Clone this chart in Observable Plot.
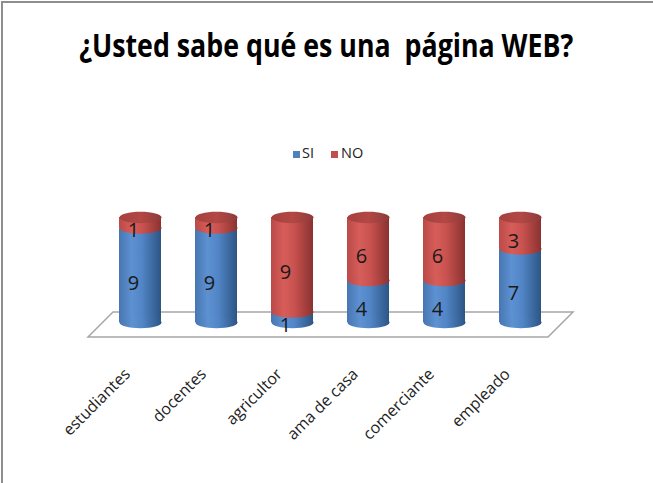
<!DOCTYPE html>
<html><head><meta charset="utf-8">
<script src="https://cdn.jsdelivr.net/npm/d3@7"></script>
<script src="https://cdn.jsdelivr.net/npm/@observablehq/plot@0.6"></script>
<style>
body{margin:0;background:#fff;}
#wrap{position:relative;width:653px;height:483px;overflow:hidden;font-family:"Open Sans","Noto Sans",sans-serif;}
#border{position:absolute;left:1px;top:1px;width:700px;height:600px;border-left:2px solid #8e8e8e;border-top:2px solid #8e8e8e;}
#title{position:absolute;left:0;width:653px;top:28px;line-height:33px;text-align:center;font-weight:bold;font-size:33px;color:#000;white-space:pre;transform-origin:325px 50%;}
#legend{position:absolute;top:146px;left:0;height:14px;font-size:14.5px;line-height:14px;color:#222;}
.sw{position:absolute;top:5px;width:7px;height:7px;}
.lt{position:absolute;top:0;}
#chart{position:absolute;left:0;top:0;}
</style>
</head><body>
<div id="wrap">
  <div id="chart"></div>
  <div id="title"><span id="tspan"></span></div>
  <div id="legend"></div>
  <div id="border"></div>
</div>
<script>
const title = "¿Usted sabe qué es una  página WEB?";
const categories = ["estudiantes","docentes","agricultor","ama de casa","comerciante","empleado"];
const seriesNames = ["SI","NO"];
const siValues = [9,9,1,4,4,7];
const noValues = [1,1,9,6,6,3];
const seriesColors = ["#4F81BD","#C0504D"];

const tspan = document.getElementById("tspan");
tspan.textContent = title;
const tw = tspan.getBoundingClientRect().width;
document.getElementById("title").style.transform = `scaleX(${494/tw})`;

const legend = document.getElementById("legend");
const legendX = [[293,302],[331,341]];
seriesNames.forEach((s,i)=>{
  const sw = document.createElement("div"); sw.className="sw"; sw.style.left=legendX[i][0]+"px"; sw.style.background=seriesColors[i]; legend.appendChild(sw);
  const t = document.createElement("div"); t.className="lt"; t.style.left=legendX[i][1]+"px"; t.textContent=s; legend.appendChild(t);
});

const rows = categories.map((c,i)=>({cat:c, si:siValues[i], no:noValues[i], total:siValues[i]+noValues[i]}));

const ellipse = {
  draw(ctx, size) {
    const rx = Math.sqrt(size/Math.PI), ry = rx*0.27, k = 0.5523;
    ctx.moveTo(rx,0);
    ctx.bezierCurveTo(rx, ry*k, rx*k, ry, 0, ry);
    ctx.bezierCurveTo(-rx*k, ry, -rx, ry*k, -rx, 0);
    ctx.bezierCurveTo(-rx, -ry*k, -rx*k, -ry, 0, -ry);
    ctx.bezierCurveTo(rx*k, -ry, rx, -ry*k, rx, 0);
    ctx.closePath();
  }
};

function defsMark() {
  const ns = "http://www.w3.org/2000/svg";
  const defs = document.createElementNS(ns,"defs");
  const grads = {
    gBlue: [[0,"#4776b2"],[0.3,"#5d91d2"],[0.55,"#5185c6"],[1,"#2c5584"]],
    gRed: [[0,"#bb4a47"],[0.3,"#d65d5a"],[0.55,"#c9524f"],[1,"#8a3230"]],
    gTop: [[0,"#a5413e"],[0.5,"#b34845"],[1,"#8e3c3a"]]
  };
  for (const [id, stops] of Object.entries(grads)) {
    const g = document.createElementNS(ns,"linearGradient");
    g.setAttribute("id",id); g.setAttribute("x1","0"); g.setAttribute("x2","1"); g.setAttribute("y1","0"); g.setAttribute("y2","0");
    for (const [o,c] of stops) { const s=document.createElementNS(ns,"stop"); s.setAttribute("offset",o); s.setAttribute("stop-color",c); g.appendChild(s); }
    defs.appendChild(g);
  }
  return defs;
}

function floorMark(index, scales, values, dims) {
  const ns = "http://www.w3.org/2000/svg";
  const x0 = dims.marginLeft, x1 = dims.width - dims.marginRight;
  const y0 = scales.y(0);
  const p = document.createElementNS(ns,"path");
  const top = y0-10, bot = y0+15;
  p.setAttribute("d", `M${x0-12},${bot}L${x0+13},${top}L${x1+13},${top}L${x1-12},${bot}Z`);
  p.setAttribute("fill","#fff"); p.setAttribute("stroke","#a6a6a6"); p.setAttribute("stroke-width","1.5");
  return p;
}

const plot = Plot.plot({
  width:653, height:483,
  marginLeft:100, marginRight:93, marginTop:217, marginBottom:161,
  style:{background:"transparent", fontFamily:'"Open Sans","Noto Sans",sans-serif'},
  x:{domain:categories, paddingInner:0.45, paddingOuter:0.225, axis:null},
  y:{domain:[0,10], axis:null},
  marks:[
    defsMark,
    floorMark,
    Plot.barY(rows,{x:"cat", y1:0, y2:"si", fill:"url(#gBlue)"}),
    Plot.dot(rows,{x:"cat", y:0, symbol:ellipse, r:21, fill:"url(#gBlue)", stroke:"none"}),
    Plot.barY(rows,{x:"cat", y1:"si", y2:"total", fill:"url(#gRed)"}),
    Plot.dot(rows,{x:"cat", y:"si", symbol:ellipse, r:21, fill:"url(#gRed)", stroke:"none"}),
    Plot.dot(rows,{x:"cat", y:"total", symbol:ellipse, r:21, fill:"url(#gTop)", stroke:"none"}),
    Plot.text(rows,{x:"cat", y:d=>d.si/2, text:"si", dx:-7, dy:8, fontSize:20, fill:"#1a1a1a"}),
    Plot.text(rows,{x:"cat", y:d=>d.si+d.no/2, text:"no", dx:-7, dy:8, fontSize:20, fill:"#1a1a1a"}),
    Plot.text(rows,{x:"cat", y:0, text:"cat", rotate:-45, textAnchor:"end", dx:-13, dy:49, fontSize:16, fill:"#222"})
  ]
});
document.getElementById("chart").appendChild(plot);
</script>
</body></html>
